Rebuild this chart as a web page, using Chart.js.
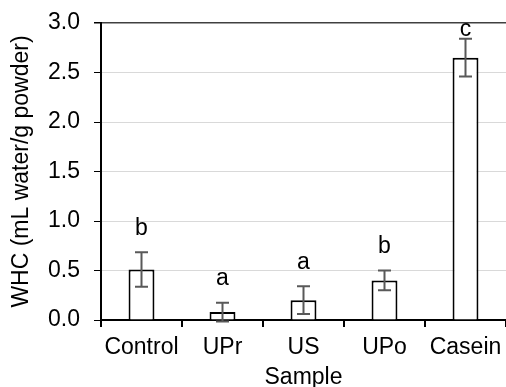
<!DOCTYPE html>
<html><head><meta charset="utf-8">
<script src="https://cdn.jsdelivr.net/npm/chart.js@4/dist/chart.umd.min.js"></script>
<style>html,body{margin:0;padding:0;background:#fff}</style>
</head><body>
<canvas id="c" width="506" height="387"></canvas>
<script>
// Water holding capacity per sample (mean ± SD) with significance groups
const categories = ['Control', 'UPr', 'US', 'UPo', 'Casein'];
const whc = [0.51, 0.08, 0.20, 0.40, 2.65];
const sd = [0.175, 0.095, 0.14, 0.10, 0.19];
const groups = ['b', 'a', 'a', 'b', 'c'];
const yTicks = [0, 0.5, 1.0, 1.5, 2.0, 2.5, 3.0];

const FONT = 'Liberation Sans, Arial, sans-serif';
const FS = 23;

// error bars and group letters drawn above each bar
const annotate = {
  id: 'annotate',
  afterDatasetsDraw(chart) {
    const ctx = chart.ctx, xs = chart.scales.x, ys = chart.scales.y;
    ctx.save();
    ctx.strokeStyle = '#595959';
    ctx.lineWidth = 2;
    whc.forEach((v, i) => {
      const x = xs.getPixelForValue(i);
      const hi = ys.getPixelForValue(v + sd[i]);
      const lo = ys.getPixelForValue(v - sd[i]);
      ctx.beginPath();
      ctx.moveTo(x, hi); ctx.lineTo(x, lo);
      ctx.moveTo(x - 6.5, hi); ctx.lineTo(x + 6.5, hi);
      ctx.moveTo(x - 6.5, lo); ctx.lineTo(x + 6.5, lo);
      ctx.stroke();
    });
    ctx.fillStyle = '#000';
    ctx.font = FS + 'px ' + FONT;
    ctx.textAlign = 'center';
    ctx.textBaseline = 'middle';
    whc.forEach((v, i) => {
      const x = xs.getPixelForValue(i);
      let y = ys.getPixelForValue(v + sd[i]) - 24;
      y = Math.max(y, chart.chartArea.top + 7);
      ctx.fillText(groups[i], x, y);
    });
    ctx.restore();
  }
};

new Chart(document.getElementById('c'), {
  type: 'bar',
  data: {
    labels: categories,
    datasets: [{
      data: whc,
      backgroundColor: '#ffffff',
      borderColor: '#000000',
      borderWidth: 2,
      borderSkipped: 'bottom',
      barPercentage: 0.32,
      categoryPercentage: 1.0
    }]
  },
  options: {
    responsive: false,
    animation: false,
    devicePixelRatio: 1,
    layout: { padding: { top: 23, right: 0, left: 0, bottom: 0 } },
    plugins: { legend: { display: false }, tooltip: { enabled: false } },
    scales: {
      x: {
        offset: true,
        grid: { display: true, drawOnChartArea: false, offset: true, tickLength: 7, tickColor: '#000', lineWidth: 2 },
        border: { color: '#000', width: 2 },
        ticks: { color: '#000', font: { family: FONT, size: FS }, padding: 7, maxRotation: 0 },
        title: { display: true, text: 'Sample', color: '#000', font: { family: FONT, size: FS }, padding: { top: 0, bottom: -4 } },
        afterFit(scale) {
          scale.height = 67;
          scale.paddingLeft = 0;
          scale.paddingRight = 0;
        }
      },
      y: {
        min: 0, max: 3,
        afterBuildTicks(scale) { scale.ticks = yTicks.map(v => ({ value: v })); },
        grid: {
          color: c => (c.tick && c.tick.value === 3 ? '#404040' : '#d9d9d9'),
          lineWidth: c => (c.tick && c.tick.value === 3 ? 1.5 : 1),
          tickColor: '#000', tickLength: 7
        },
        border: { color: '#000', width: 2 },
        ticks: { color: '#000', font: { family: FONT, size: FS }, padding: 14, callback: v => Number(v).toFixed(1) },
        title: { display: true, text: 'WHC (mL water/g powder)', color: '#000', font: { family: FONT, size: FS }, padding: { top: 8, bottom: 0 } },
        afterFit(scale) {
          scale.width = 101;
          scale.paddingTop = 0;
          scale.paddingBottom = 0;
        }
      }
    }
  },
  plugins: [annotate]
});
</script>
</body></html>
